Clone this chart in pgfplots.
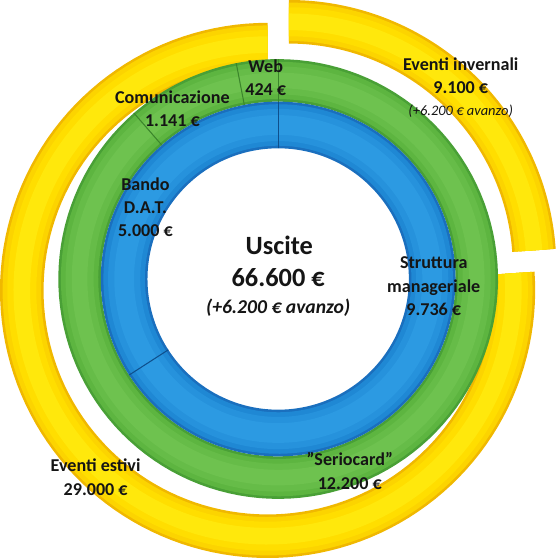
\documentclass[border=0pt]{standalone}
\usepackage{fontspec}
\setmainfont{Carlito}
\usepackage{pgfplots}
\pgfplotsset{compat=1.18}
\usepgfplotslibrary{fillbetween}
\definecolor{blueE}{HTML}{1A6FBE}
\definecolor{blueM}{HTML}{1F88D4}
\definecolor{blueL}{HTML}{2692DC}
\definecolor{blueX}{HTML}{2C9AE2}
\definecolor{blueD}{HTML}{0E4F8C}
\definecolor{greenE}{HTML}{49A036}
\definecolor{greenM}{HTML}{5DB540}
\definecolor{greenL}{HTML}{66BC48}
\definecolor{greenX}{HTML}{6EC24F}
\definecolor{greenD}{HTML}{3B852B}
\definecolor{yelE}{HTML}{F0B800}
\definecolor{yelM}{HTML}{FCD400}
\definecolor{yelL}{HTML}{FFDE00}
\definecolor{yelX}{HTML}{FFE80C}
\definecolor{txt}{HTML}{151515}
% one ring segment: id, cx, cy, r1, r2, a1, a2, colour
\newcommand{\seg}[8]{%
  \addplot[draw=none, name path=o#1, domain=#6:#7, samples=120, forget plot] ({#2+#5*cos(x)},{#3+#5*sin(x)});
  \addplot[draw=none, name path=i#1, domain=#6:#7, samples=120, forget plot] ({#2+#4*cos(x)},{#3+#4*sin(x)});
  \addplot[fill=#8, draw=none, forget plot] fill between[of=o#1 and i#1];
}
% bevelled segment: id, cx, cy, r1, r2, a1, a2, colour prefix
\newcommand{\bseg}[8]{%
  \seg{#1a}{#2}{#3}{#4}{#5}{#6}{#7}{#8E}
  \seg{#1b}{#2}{#3}{\fpeval{#4+2.5}}{\fpeval{#5-2.5}}{#6}{#7}{#8M}
  \seg{#1c}{#2}{#3}{\fpeval{#4+7}}{\fpeval{#5-7}}{#6}{#7}{#8L}
  \seg{#1d}{#2}{#3}{\fpeval{#4+13}}{\fpeval{#5-13}}{#6}{#7}{#8X}
}
% values (euro)
\def\vInv{9100}
\def\vEst{29000}
\edef\aInv{\fpeval{round(90-360*\vInv/(\vInv+\vEst),3)}}
\begin{document}
\begin{tikzpicture}
\begin{axis}[width=550bp, height=558bp, scale only axis,
  xmin=0, xmax=550, ymin=0, ymax=558, hide axis, clip=false]
% outer ring (eventi), exploded
\bseg{inv}{294.2}{285}{216}{258}{\aInv}{90}{yel}
\bseg{est}{273.8}{263}{216}{258}{-270}{\aInv}{yel}
% middle ring (green): Web 424, Comunicazione 1141, Bando D.A.T. 5000, Seriocard 12200, Struttura 9736
\bseg{web}{284}{274}{171}{212}{90}{101}{green}
\bseg{com}{284}{274}{171}{212}{101}{131}{green}
\bseg{rest}{284}{274}{171}{212}{131}{450}{green}
% inner ring (blue)
\bseg{bA}{284}{274}{126}{171}{90}{212.8}{blue}
\bseg{bB}{284}{274}{126}{171}{212.8}{450}{blue}
% dividers
\addplot[blueD, line width=1pt, domain=126:171, samples=2, forget plot] ({284+x*cos(90)},{274+x*sin(90)});
\addplot[blueD, line width=1pt, domain=126:171, samples=2, forget plot] ({284+x*cos(212.8)},{274+x*sin(212.8)});
\addplot[greenD, line width=0.8pt, domain=171:212, samples=2, forget plot] ({284+x*cos(90)},{274+x*sin(90)});
\addplot[greenD, line width=1pt, domain=171:212, samples=2, forget plot] ({284+x*cos(101)},{274+x*sin(101)});
\addplot[greenD, line width=1pt, domain=171:212, samples=2, forget plot] ({284+x*cos(131)},{274+x*sin(131)});
% labels
\tikzset{lab/.style={align=center, text=txt, font=\fontsize{17.5}{22.5}\selectfont\bfseries}}
\node[lab] at (axis cs:272,468) {Web\\424 €};
\node[lab] at (axis cs:182,438.5) {Comunicazione\\1.141 €};
\node[lab] at (axis cs:156,343) {Bando\\D.A.T.\\5.000 €};
\node[lab] at (axis cs:434,267) {Struttura\\manageriale\\9.736 €};
\node[lab] at (axis cs:353,89) {"Seriocard"\\12.200 €};
\node[lab] at (axis cs:108,83) {Eventi estivi\\29.000 €};
\node[lab] at (axis cs:460,470) {Eventi invernali\\9.100 €};
\node[text=txt, font=\fontsize{14}{16}\selectfont\itshape] at (axis cs:460,436) {(+6.200 € avanzo)};
\node[anchor=base, text=txt, font=\fontsize{25.5}{30}\selectfont\bfseries] at (axis cs:285,298) {Uscite};
\node[anchor=base, text=txt, font=\fontsize{25.5}{30}\selectfont\bfseries] at (axis cs:284,267) {66.600 €};
\node[anchor=base, text=txt, font=\fontsize{19}{22}\selectfont\bfseries\itshape] at (axis cs:284,240.5) {(+6.200 € avanzo)};
\end{axis}
\end{tikzpicture}
\end{document}
